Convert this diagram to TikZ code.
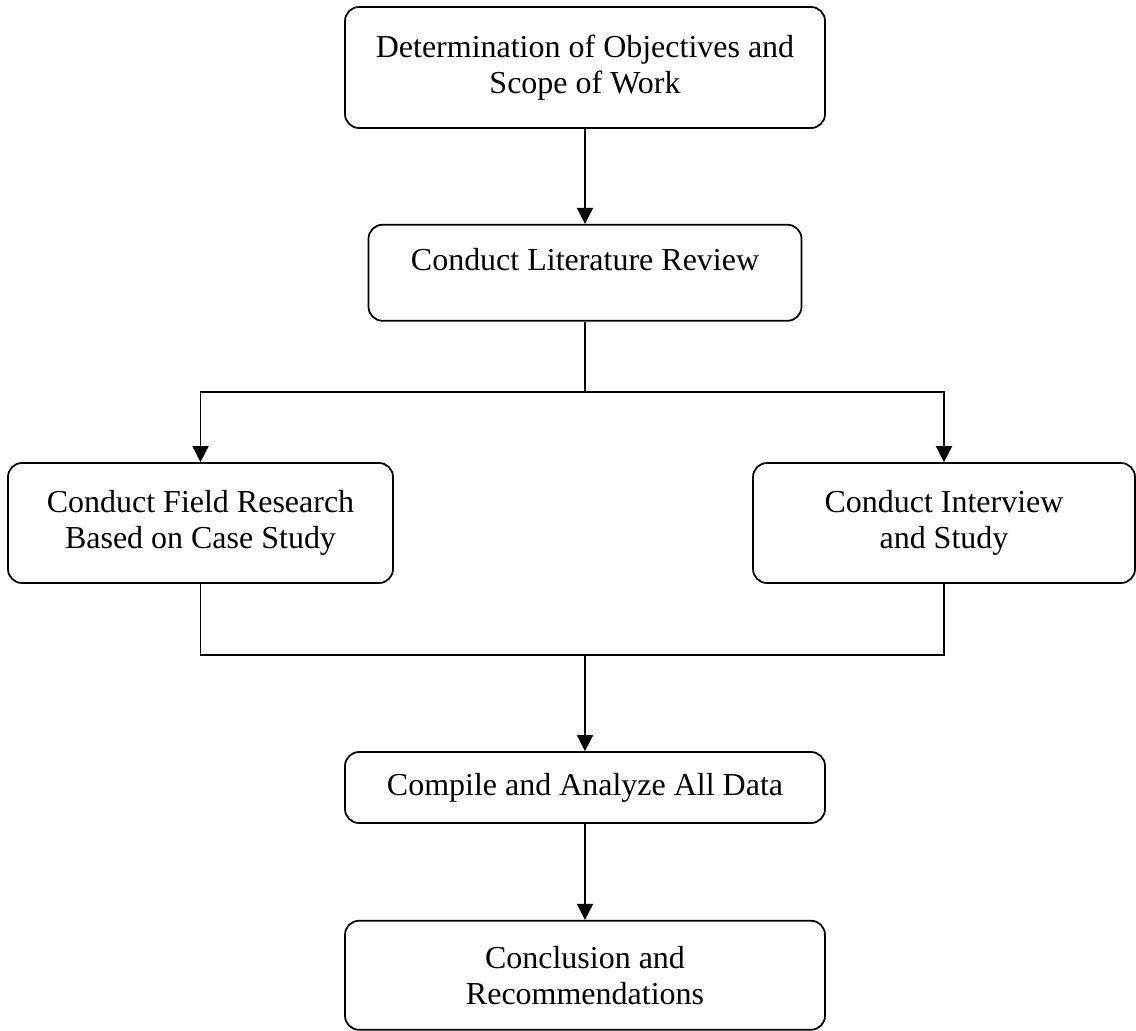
\documentclass[tikz,border=0pt]{standalone}
\usepackage{fontspec}
\setmainfont{Liberation Serif}
\usetikzlibrary{arrows.meta,positioning}

\begin{document}
\begin{tikzpicture}[
          stage/.style={draw, line width=1pt, rounded corners=0.28cm, align=center, inner sep=0pt, minimum width=9.6cm, font=\fontsize{18.2}{20.5}\selectfont},
          arr/.style={-{Triangle[length=0.32cm, width=0.32cm]}, line width=1pt},
          link/.style={line width=1pt}]
        \useasboundingbox (0,0) rectangle (22.72,-20.6);
        \node[stage, minimum height=2.42cm] (obj) at (11.7,-1.35) {Determination of Objectives and\\Scope of Work};
        \node[stage, minimum width=8.66cm, minimum height=1.92cm, text depth=0.52cm, below=1.9cm of obj] (lit) {Conduct Literature Review};
        \node[stage, minimum width=7.7cm, minimum height=2.4cm] (field) at (4.01,-10.46) {Conduct Field Research\\Based on Case Study};
        \node[stage, minimum width=7.64cm, minimum height=2.4cm] (intv) at (18.88,-10.46) {Conduct Interview\\and Study};
        \node[stage, minimum height=1.42cm] (data) at (11.7,-15.75) {Compile and Analyze All Data};
        \node[stage, minimum height=2.18cm, below=1.92cm of data] (concl) {Conclusion and\\Recommendations};
        \coordinate (split) at (11.7,-7.84);
        \coordinate (merge) at (11.7,-13.1);
        \draw[arr] (obj) -- (lit);
        \draw[link] (lit) -- (split);
        \draw[arr] (split) -| (field);
        \draw[arr] (split) -| (intv);
        \draw[link] (field) |- (merge);
        \draw[link] (intv) |- (merge);
        \draw[arr] (merge) -- (data);
        \draw[arr] (data) -- (concl);
      \end{tikzpicture}
\end{document}
